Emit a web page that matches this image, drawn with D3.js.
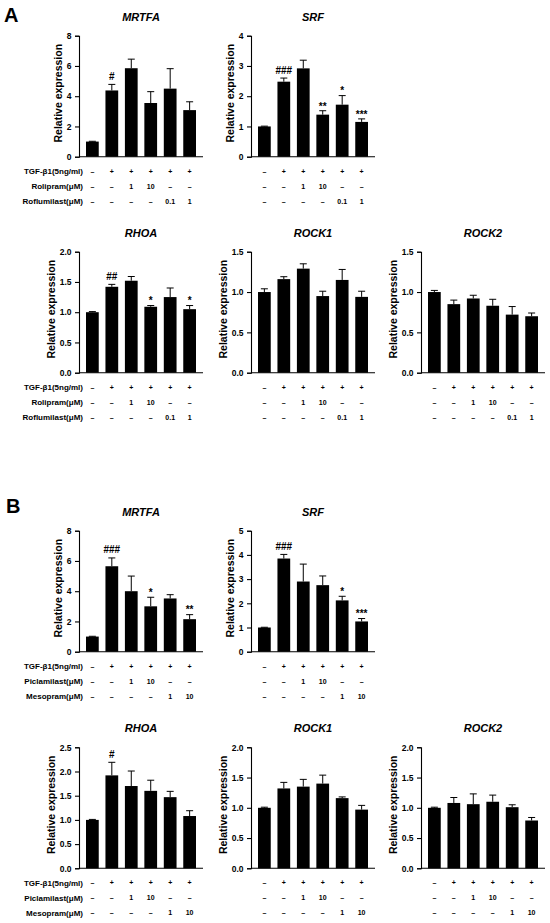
<!DOCTYPE html>
<html>
<head>
<meta charset="utf-8">
<script src="https://cdn.jsdelivr.net/npm/d3@7"></script>
<style>
  body { margin: 0; background: #fff; }
  svg { display: block; font-family: "Liberation Sans", Arial, sans-serif; }
</style>
</head>
<body>
<div id="chart"></div>
<script>
// treatment rows under the bars
const rowNamesA = ['TGF-β1(5ng/ml)', 'Rolipram(μM)', 'Roflumilast(μM)'];
const rowSymbolsA = [
  ['–', '+', '+', '+', '+', '+'],
  ['–', '–', '1', '10', '–', '–'],
  ['–', '–', '–', '–', '0.1', '1']
];
const rowNamesB = ['TGF-β1(5ng/ml)', 'Piclamilast(μM)', 'Mesopram(μM)'];
const rowSymbolsB = [
  ['–', '+', '+', '+', '+', '+'],
  ['–', '–', '1', '10', '–', '–'],
  ['–', '–', '–', '–', '1', '10']
];

// panel A
const mrtfaA = [1.0, 4.38, 5.85, 3.55, 4.5, 3.08];
const mrtfaAErr = [0.02, 0.4, 0.6, 0.75, 1.32, 0.55];
const mrtfaASig = ['', '#', '', '', '', ''];
const srfA = [1.0, 2.48, 2.92, 1.39, 1.72, 1.15];
const srfAErr = [0.01, 0.12, 0.27, 0.13, 0.3, 0.1];
const srfASig = ['', '###', '', '**', '*', '***'];
const rhoaA = [1.0, 1.42, 1.52, 1.09, 1.25, 1.05];
const rhoaAErr = [0.01, 0.04, 0.07, 0.02, 0.15, 0.06];
const rhoaASig = ['', '##', '', '*', '', '*'];
const rock1A = [1.0, 1.16, 1.29, 0.95, 1.15, 0.94];
const rock1AErr = [0.04, 0.03, 0.06, 0.06, 0.13, 0.07];
const rock2A = [1.0, 0.85, 0.92, 0.83, 0.72, 0.70];
const rock2AErr = [0.02, 0.05, 0.04, 0.08, 0.1, 0.04];

// panel B
const mrtfaB = [1.0, 5.65, 4.0, 3.0, 3.52, 2.15];
const mrtfaBErr = [0.02, 0.55, 1.0, 0.6, 0.25, 0.3];
const mrtfaBSig = ['', '###', '', '*', '', '**'];
const srfB = [1.0, 3.85, 2.9, 2.75, 2.12, 1.25];
const srfBErr = [0.01, 0.17, 0.72, 0.38, 0.17, 0.12];
const srfBSig = ['', '###', '', '', '*', '***'];
const rhoaB = [1.0, 1.92, 1.7, 1.6, 1.47, 1.08];
const rhoaBErr = [0.01, 0.27, 0.31, 0.22, 0.12, 0.11];
const rhoaBSig = ['', '#', '', '', '', ''];
const rock1B = [1.0, 1.32, 1.35, 1.4, 1.16, 0.97];
const rock1BErr = [0.01, 0.1, 0.12, 0.14, 0.02, 0.07];
const rock2B = [1.0, 1.08, 1.06, 1.1, 1.01, 0.79];
const rock2BErr = [0.01, 0.09, 0.17, 0.11, 0.04, 0.05];

// y tick values
const ticks8 = [0, 2, 4, 6, 8];
const ticks4 = [0, 1, 2, 3, 4];
const ticks5 = [0, 1, 2, 3, 4, 5];
const ticks20 = [0, 0.5, 1.0, 1.5, 2.0];
const ticks15 = [0, 0.5, 1.0, 1.5];
const ticks25 = [0, 0.5, 1.0, 1.5, 2.0, 2.5];

const width = 550, height = 923;
const noSig = ['', '', '', '', '', ''];
const intFmt = d3.format('d'), decFmt = d3.format('.1f');

const svg = d3.select('#chart').append('svg')
  .attr('width', width)
  .attr('height', height);

const panels = [
  {title: 'MRTFA', v: mrtfaA, e: mrtfaAErr, s: mrtfaASig, t: ticks8, f: intFmt, x: 79, y: 35.7, names: rowNamesA, sym: rowSymbolsA},
  {title: 'SRF', v: srfA, e: srfAErr, s: srfASig, t: ticks4, f: intFmt, x: 251, y: 35.7, names: null, sym: rowSymbolsA},
  {title: 'RHOA', v: rhoaA, e: rhoaAErr, s: rhoaASig, t: ticks20, f: decFmt, x: 79, y: 251.7, names: rowNamesA, sym: rowSymbolsA},
  {title: 'ROCK1', v: rock1A, e: rock1AErr, s: noSig, t: ticks15, f: decFmt, x: 251, y: 251.7, names: null, sym: rowSymbolsA},
  {title: 'ROCK2', v: rock2A, e: rock2AErr, s: noSig, t: ticks15, f: decFmt, x: 421, y: 251.7, names: null, sym: rowSymbolsA},
  {title: 'MRTFA', v: mrtfaB, e: mrtfaBErr, s: mrtfaBSig, t: ticks8, f: intFmt, x: 79, y: 530.7, names: rowNamesB, sym: rowSymbolsB},
  {title: 'SRF', v: srfB, e: srfBErr, s: srfBSig, t: ticks5, f: intFmt, x: 251, y: 530.7, names: null, sym: rowSymbolsB},
  {title: 'RHOA', v: rhoaB, e: rhoaBErr, s: rhoaBSig, t: ticks25, f: decFmt, x: 79, y: 747.3, names: rowNamesB, sym: rowSymbolsB},
  {title: 'ROCK1', v: rock1B, e: rock1BErr, s: noSig, t: ticks20, f: decFmt, x: 251, y: 747.3, names: null, sym: rowSymbolsB},
  {title: 'ROCK2', v: rock2B, e: rock2BErr, s: noSig, t: ticks20, f: decFmt, x: 421, y: 747.3, names: null, sym: rowSymbolsB}
];

const plotW = 124, plotH = 121;
const rowOffsets = [14.5, 29.5, 44.5];

panels.forEach(function (p) {
  const g = svg.append('g').attr('transform', 'translate(' + p.x + ',' + p.y + ')');
  const idx = d3.range(p.v.length);

  const x = d3.scaleBand().domain(idx).range([0, plotW])
    .paddingInner(0.345).paddingOuter(0.36);
  const y = d3.scaleLinear().domain([0, d3.max(p.t)]).range([plotH, 0]);

  // bars
  g.selectAll('.bar').data(p.v).enter().append('rect')
    .attr('x', (d, i) => x(i))
    .attr('y', d => y(d))
    .attr('width', x.bandwidth())
    .attr('height', d => plotH - y(d))
    .attr('fill', '#000');

  // error bars, upper half only
  const eb = g.selectAll('.err').data(p.v).enter().append('g')
    .attr('stroke', '#000').attr('stroke-width', 1);
  eb.append('line')
    .attr('x1', (d, i) => x(i) + x.bandwidth() / 2)
    .attr('x2', (d, i) => x(i) + x.bandwidth() / 2)
    .attr('y1', d => y(d))
    .attr('y2', (d, i) => y(d + p.e[i]));
  eb.append('line')
    .attr('x1', (d, i) => x(i) + x.bandwidth() / 2 - 3.5)
    .attr('x2', (d, i) => x(i) + x.bandwidth() / 2 + 3.5)
    .attr('y1', (d, i) => y(d + p.e[i]))
    .attr('y2', (d, i) => y(d + p.e[i]));

  // significance marks (# sits on the baseline, * rides high)
  g.selectAll('.sig').data(p.s).enter().append('text')
    .attr('x', (d, i) => x(i) + x.bandwidth() / 2)
    .attr('y', (d, i) => y(p.v[i] + p.e[i]) - (d.charAt(0) === '#' ? 4.5 : 1.2))
    .attr('text-anchor', 'middle')
    .attr('font-size', 10).attr('font-weight', 'bold')
    .attr('fill', '#000')
    .text(d => d);

  // axes
  const yAxis = d3.axisLeft(y).tickValues(p.t).tickFormat(p.f).tickSize(4).tickPadding(3.5);
  const ya = g.append('g').call(yAxis);
  ya.select('.domain').attr('stroke-width', 1.1);
  ya.selectAll('.tick line').attr('stroke-width', 1.1);
  ya.selectAll('text').attr('font-size', 8.5).attr('font-weight', 'bold')
    .attr('font-family', '"Liberation Sans", Arial, sans-serif');

  g.append('line')
    .attr('x1', 0).attr('x2', plotW)
    .attr('y1', plotH).attr('y2', plotH)
    .attr('stroke', '#000').attr('stroke-width', 1.1);

  // title and y label
  g.append('text')
    .attr('x', plotW / 2).attr('y', -15)
    .attr('text-anchor', 'middle')
    .attr('font-size', 11).attr('font-weight', 'bold').attr('font-style', 'italic')
    .text(p.title);

  // label sits further out when tick labels carry a decimal
  const labelX = p.f === decFmt ? -24.5 : -17;
  g.append('text')
    .attr('transform', 'translate(' + labelX + ',' + (plotH / 2 - 3) + ') rotate(-90)')
    .attr('text-anchor', 'middle')
    .attr('font-size', 10.5).attr('font-weight', 'bold')
    .text('Relative expression');

  // treatment rows
  p.sym.forEach(function (row, r) {
    g.selectAll('.sym' + r).data(row).enter().append('text')
      .attr('x', (d, i) => x(i) + x.bandwidth() / 2)
      .attr('y', plotH + rowOffsets[r] + 2.5)
      .attr('text-anchor', 'middle')
      .attr('font-size', 7).attr('font-weight', 'bold')
      .text(d => d);
    if (p.names) {
      g.append('text')
        .attr('x', 4).attr('y', plotH + rowOffsets[r] + 2.8)
        .attr('text-anchor', 'end')
        .attr('font-size', 8).attr('font-weight', 'bold')
        .text(p.names[r]);
    }
  });
});

// panel letters
svg.append('text').attr('x', 4).attr('y', 22)
  .attr('font-size', 20).attr('font-weight', 'bold').text('A');
svg.append('text').attr('x', 6).attr('y', 513)
  .attr('font-size', 20).attr('font-weight', 'bold').text('B');
</script>
</body>
</html>
